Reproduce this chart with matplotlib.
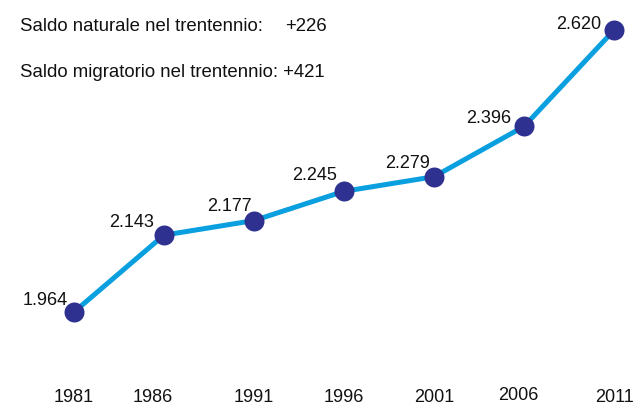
import matplotlib
matplotlib.use("Agg")
import matplotlib.pyplot as plt
from matplotlib.transforms import blended_transform_factory, offset_copy

plt.rcParams['font.family'] = ['Liberation Sans', 'DejaVu Sans']

# Popolazione residente 1981-2011
years = [1981, 1986, 1991, 1996, 2001, 2006, 2011]
population = [1964, 2143, 2177, 2245, 2279, 2396, 2620]
year_labels = ["1981", "1986", "1991", "1996", "2001", "2006", "2011"]
point_labels = ["1.964", "2.143", "2.177", "2.245", "2.279", "2.396", "2.620"]

natural_label = "Saldo naturale nel trentennio:"
natural_value = "+226"
migration_label = "Saldo migratorio nel trentennio:"
migration_value = "+421"

line_color = "#0A9FDF"
marker_color = "#2E3190"
text_color = "#111111"
fs = 13
fs_header = 13.4

# label placement (points): right edge / baseline relative to each marker
label_offsets = [(-4.3, 5.0), (-7.2, 5.8), (-1.4, 7.2), (-5.0, 7.9),
                 (-2.9, 6.5), (-9.4, 2.2), (-9.4, 0.7)]
# small horizontal/vertical nudges for the year labels (points)
year_nudges = [(0, 0), (-8, 0), (0, 0), (0, 0), (0, 0), (-4, 2), (0, 0)]

fig = plt.figure(figsize=(6.33, 4.05), dpi=100)
ax = fig.add_axes([0, 0, 1, 1])

ax.plot(years, population, color=line_color, linewidth=3.6, zorder=2,
        solid_capstyle="round")
ax.plot(years, population, linestyle="none", marker="o", markersize=14.4,
        color=marker_color, markeredgewidth=0, zorder=3)

for x, y, lab, (dx, dy) in zip(years, population, point_labels, label_offsets):
    ax.annotate(lab, (x, y), xytext=(dx, dy), textcoords="offset points",
                ha="right", va="baseline", fontsize=fs, color=text_color,
                zorder=4)

ax.set_xlim(1976.9, 2012.05)
ax.set_ylim(1748, 2690)
ax.set_xticks([])
ax.set_yticks([])
for s in ax.spines.values():
    s.set_visible(False)

# year labels along the bottom edge
trans = blended_transform_factory(ax.transData, ax.transAxes)
for x, lab, (dx, dy) in zip(years, year_labels, year_nudges):
    t = offset_copy(trans, fig=fig, x=dx, y=dy, units="points")
    ax.text(x, 2.5 / 405, lab, transform=t, ha="center", va="baseline",
            fontsize=fs, color=text_color, clip_on=False)

fig.text(20 / 633, 1 - 30.7 / 405, natural_label, fontsize=fs_header,
         va="baseline", ha="left", color=text_color)
fig.text(285 / 633, 1 - 30.7 / 405, natural_value, fontsize=fs_header,
         va="baseline", ha="left", color=text_color)
fig.text(20 / 633, 1 - 77.3 / 405, migration_label + " " + migration_value,
         fontsize=fs_header, va="baseline", ha="left", color=text_color)

fig.savefig("out.png", dpi=100, facecolor="white")
